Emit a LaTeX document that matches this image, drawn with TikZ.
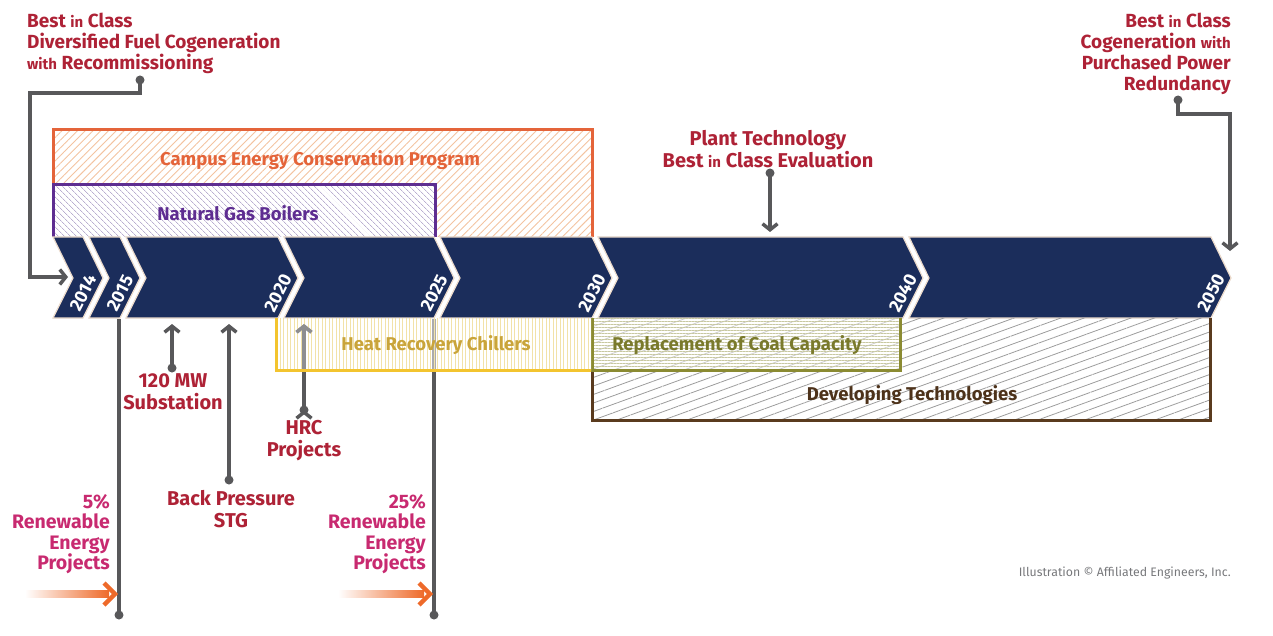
\documentclass[tikz,border=0pt]{standalone}
\usepackage{fontspec}
\setmainfont{Fira Sans}
\usetikzlibrary{arrows.meta,patterns.meta,calc}

\definecolor{navy}{HTML}{1B2D5B}
\definecolor{chevedge}{HTML}{EBDACB}
\definecolor{labelred}{HTML}{AE2236}
\definecolor{renewpink}{HTML}{C82A70}
\definecolor{arrowgray}{HTML}{58585A}
\definecolor{fadegray}{HTML}{8E8E90}
\definecolor{arrorange}{HTML}{EE6A2A}
\definecolor{campus}{HTML}{E4643A}
\definecolor{campushatch}{HTML}{F3C3A0}
\definecolor{gas}{HTML}{5E2D91}
\definecolor{gashatch}{HTML}{B9AED0}
\definecolor{hrc}{HTML}{F3C42F}
\definecolor{hrchatch}{HTML}{F2E2A8}
\definecolor{hrctext}{HTML}{C9A43A}
\definecolor{coal}{HTML}{8B8B32}
\definecolor{coalhatch}{HTML}{C8C8A0}
\definecolor{coaltext}{HTML}{7A7A2C}
\definecolor{dev}{HTML}{5A3B1E}
\definecolor{devhatch}{HTML}{9C9C9C}
\definecolor{devtext}{HTML}{4D321A}
\definecolor{copygray}{HTML}{77787B}

\newcommand\smw[1]{{\fontsize{15}{15}\selectfont #1}}

\begin{document}
\begin{tikzpicture}[x=1pt, y=-1pt,
	chev/.style={fill=navy, draw=chevedge, line width=1.2pt},
	year/.style={text=white, font=\fontsize{18}{18}\selectfont\bfseries, rotate=63, inner sep=0},
	lab/.style={text=labelred, font=\fontsize{19}{21}\selectfont\bfseries, inner sep=0},
	biglab/.style={lab, font=\fontsize{20}{22}\selectfont\bfseries},
	renew/.style={text=renewpink, font=\fontsize{19.5}{20.5}\selectfont\bfseries, inner sep=0, align=right, anchor=north east},
	boxlab/.style={font=\fontsize{18.5}{18.5}\selectfont\bfseries, inner sep=0},
	dot/.style={shape=circle, fill=arrowgray, inner sep=0, minimum size=9pt},
	conn/.style={draw=arrowgray, line width=3.5pt, -{Straight Barb[length=6pt,width=15pt]}},
	stem/.style={draw=arrowgray, line width=3.5pt}]
	\useasboundingbox (0,0) rectangle (1273,636);

	% boxes above the timeline
	\fill[pattern={Lines[angle=45,distance=5.5pt,line width=0.9pt]}, pattern color=campushatch] (53,130) rectangle (592,237);
	\draw[campus, line width=3pt] (53,237) -- (53,130) -- (592,130) -- (592,237);
	\fill[white] (53,185) rectangle (435,237);
	\fill[pattern={Lines[angle=-45,distance=4pt,line width=0.8pt]}, pattern color=gashatch] (53,185) rectangle (435,237);
	\draw[gas, line width=3pt] (53,237) -- (53,185) -- (435,185) -- (435,237);
	\node[boxlab, text=campus] (cecp) at (320,160) {Campus Energy Conservation Program};
	\node[boxlab, text=gas]    (ngb)  at (238,213) {Natural Gas Boilers};

	% timeline
	\foreach \a/\b/\yr in {53/83/2014, 89/120/2015, 126/278/2020, 284/434/2025, 440/592/2030, 598/903/2040, 909/1211/2050} {
		\filldraw[chev] (\a,237) -- (\a+20,278) -- (\a,318) -- (\b,318) -- (\b+20,278) -- (\b,237) -- cycle;
		\node[year] (y\yr) at (\b,293) {\yr};
	}

	% markers below the timeline
	\node[dot] (sub dot)  at (172,368) {};
	\node[dot] (stg dot)  at (229,480) {};
	\node[dot] (hrc dot)  at (304,410) {};
	\node[dot] (re5 dot)  at (119,615) {};
	\node[dot] (re25 dot) at (434,615) {};
	\coordinate (sub tip)  at (172,324);
	\coordinate (stg tip)  at (229,324);
	\coordinate (hrc tip)  at (304,324);
	\coordinate (re5 top)  at (119,319);
	\coordinate (re25 top) at (434,319);
	\path [conn] (sub dot.center) edge (sub tip)
	             (stg dot.center) edge (stg tip)
	             (hrc dot.center) edge (hrc tip);
	\draw[stem] (re5 top) -- (re5 dot.center);
	\draw[stem] (re25 top) -- (re25 dot.center);

	% boxes below the timeline
	\fill[pattern={Lines[angle=20,distance=8pt,line width=0.8pt]}, pattern color=devhatch] (592,318) rectangle (1210,420);
	\draw[dev, line width=3pt] (592,370) -- (592,420) -- (1210,420) -- (1210,318);
	\fill[white, fill opacity=0.5] (592,318) rectangle (900,370);
	\fill[pattern={Lines[angle=0,distance=3pt,line width=0.6pt]}, pattern color=coalhatch] (592,318) rectangle (900,370);
	\draw[coal, line width=3pt] (592,318) -- (592,370) -- (900,370) -- (900,318);
	\fill[white, fill opacity=0.5] (276,318) rectangle (591,370);
	\fill[pattern={Lines[angle=90,distance=3.5pt,line width=0.7pt]}, pattern color=hrchatch] (276,318) rectangle (591,370);
	\draw[conn, draw=fadegray] (304,370) -- (hrc tip);
	\draw[hrc, line width=3pt] (276,318) -- (276,370) -- (591,370);
	\node[boxlab, text=hrctext]  (hrcl) at (436,345) {Heat Recovery Chillers};
	\node[boxlab, text=coaltext] (coall) at (737,345) {Replacement of Coal Capacity};
	\node[boxlab, text=devtext]  (devl) at (912,395) {Developing Technologies};

	% labels
	\node[lab, align=left, anchor=north west]  (div)   at (27,13)   {Best \smw{in} Class\\Diversified Fuel Cogeneration\\\smw{with} Recommissioning};
	\node[lab, align=right, anchor=north east] (cog)   at (1231,13) {Best \smw{in} Class\\Cogeneration \smw{with}\\Purchased Power\\Redundancy};
	\node[biglab, align=center, anchor=north]  (plant) at (768,130) {Plant Technology\\Best \smw{in} Class Evaluation};
	\node[biglab, align=center, anchor=north]  (sub)   at (173,373) {120 MW\\Substation};
	\node[biglab, align=center, anchor=north]  (stg)   at (231,490) {Back Pressure\\STG};
	\node[biglab, align=center, anchor=north]  (hrcp)  at (304,420) {HRC\\Projects};
	\node[renew] (re5)  at (110,494) {5\%\\Renewable\\Energy\\Projects};
	\node[renew] (re25) at (426,494) {25\%\\Renewable\\Energy\\Projects};
	\node[anchor=east, text=copygray, font=\fontsize{12.3}{13}\selectfont, inner sep=0] (copy) at (1231,573) {Illustration \textcopyright{} Affiliated Engineers, Inc.};

	% markers above the timeline
	\node[dot] (div dot)   at (140,80) {};
	\node[dot] (cog dot)   at (1178,100) {};
	\node[dot] (plant dot) at (770,173) {};
	\coordinate (div tip)   at (68,277);
	\coordinate (cog tip)   at (1230,251);
	\coordinate (plant tip) at (770,232);
	\draw[conn] (div dot.center) -- (140,93) -- (30,93) |- (div tip);
	\draw[conn] (cog dot.center) -- (1178,114) -| (cog tip);
	\draw[conn] (plant dot.center) -- (plant tip);

	% renewable arrows
	\coordinate (re5 tail)  at (25,594);
	\coordinate (re5 head)  at (115,594);
	\coordinate (re25 tail) at (338,594);
	\coordinate (re25 head) at (430,594);
	\foreach \t/\h in {re5 tail/re5 head, re25 tail/re25 head} {
		\shade[left color=white, right color=arrorange] ($(\t)+(0,-3.5)$) rectangle ($(\h)+(-6,3.5)$);
		\draw[arrorange, line width=4.5pt, line join=miter] ($(\h)+(-11,-11)$) -- (\h) -- ($(\h)+(-11,11)$);
	}
\end{tikzpicture}
\end{document}
